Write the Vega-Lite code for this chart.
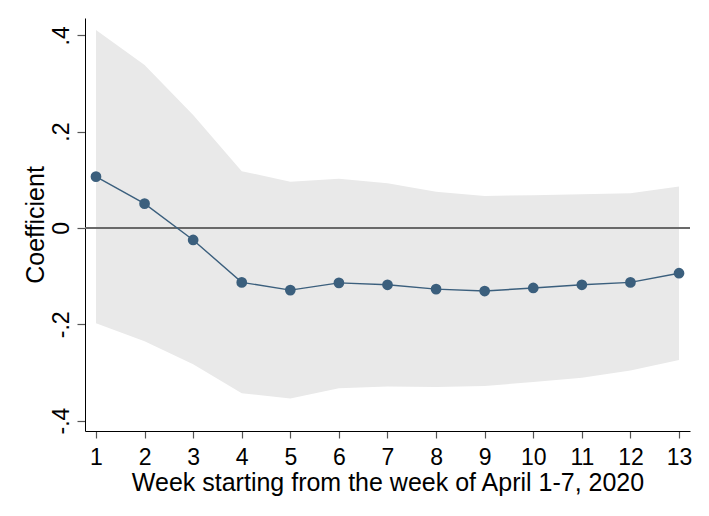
{
  "$schema": "https://vega.github.io/schema/vega-lite/v6.json",
  "width": 605,
  "height": 413,
  "autosize": {"type": "none"},
  "padding": {"left": 85, "top": 18, "right": 19, "bottom": 85},
  "background": "white",
  "config": {
    "view": {"stroke": null},
    "font": "Liberation Sans"
  },
  "data": {
    "values": [
      {"week": 1, "coef": 0.1066, "lo": -0.198, "hi": 0.411},
      {"week": 2, "coef": 0.0505, "lo": -0.235, "hi": 0.3385},
      {"week": 3, "coef": -0.0249, "lo": -0.283, "hi": 0.2347},
      {"week": 4, "coef": -0.113, "lo": -0.343, "hi": 0.118},
      {"week": 5, "coef": -0.129, "lo": -0.354, "hi": 0.096},
      {"week": 6, "coef": -0.114, "lo": -0.333, "hi": 0.102},
      {"week": 7, "coef": -0.118, "lo": -0.329, "hi": 0.093},
      {"week": 8, "coef": -0.127, "lo": -0.330, "hi": 0.075},
      {"week": 9, "coef": -0.131, "lo": -0.328, "hi": 0.0665},
      {"week": 10, "coef": -0.1246, "lo": -0.320, "hi": 0.068},
      {"week": 11, "coef": -0.118, "lo": -0.311, "hi": 0.070},
      {"week": 12, "coef": -0.113, "lo": -0.296, "hi": 0.072},
      {"week": 13, "coef": -0.094, "lo": -0.274, "hi": 0.086}
    ]
  },
  "encoding": {
    "x": {
      "field": "week",
      "type": "quantitative",
      "scale": {"domain": [0.774, 13.226], "nice": false, "zero": false},
      "title": "Week starting from the week of April 1-7, 2020",
      "axis": {
        "values": [1, 2, 3, 4, 5, 6, 7, 8, 9, 10, 11, 12, 13],
        "format": "d",
        "grid": false,
        "domainColor": "#000000",
        "domainWidth": 1,
        "tickColor": "#555555",
        "tickSize": 7,
        "tickWidth": 1.2,
        "labelFontSize": 23,
        "labelColor": "#000000",
        "labelPadding": 8,
        "labelFont": "Liberation Sans",
        "titleFont": "Liberation Sans",
        "titleFontSize": 25,
        "titleFontWeight": "normal",
        "titleColor": "#000000",
        "titlePadding": 1
      }
    }
  },
  "layer": [
    {
      "mark": {"type": "area", "color": "#e9e9e9", "opacity": 1},
      "encoding": {
        "y": {
          "field": "hi",
          "type": "quantitative",
          "scale": {"domain": [-0.4216, 0.436], "nice": false, "zero": false},
          "title": "Coefficient",
          "axis": {
            "values": [-0.4, -0.2, 0, 0.2, 0.4],
            "labelExpr": "(datum.value < -0.01 ? '-' : '') + (abs(datum.value) < 0.01 ? '0' : '.' + round(abs(datum.value) * 10))",
            "grid": false,
            "domainColor": "#000000",
            "domainWidth": 1,
            "tickColor": "#555555",
            "tickSize": 8,
            "tickWidth": 1.2,
            "labelAngle": -90,
            "labelAlign": "center",
            "labelBaseline": "bottom",
            "labelFontSize": 23,
            "labelColor": "#000000",
            "labelPadding": 4,
            "labelFont": "Liberation Sans",
            "titleFont": "Liberation Sans",
            "titleFontSize": 25,
            "titleFontWeight": "normal",
            "titleColor": "#000000",
            "titlePadding": 2
          }
        },
        "y2": {"field": "lo"}
      }
    },
    {
      "mark": {"type": "rule", "color": "#6a6a6a", "strokeWidth": 1.5},
      "encoding": {
        "y": {"datum": 0, "type": "quantitative"},
        "x": {"datum": 0.774, "type": "quantitative"},
        "x2": {"datum": 13.226}
      }
    },
    {
      "mark": {"type": "line", "color": "#3b5f7d", "strokeWidth": 1.4},
      "encoding": {
        "y": {"field": "coef", "type": "quantitative"}
      }
    },
    {
      "mark": {"type": "circle", "color": "#3b5f7d", "opacity": 1, "size": 115},
      "encoding": {
        "y": {"field": "coef", "type": "quantitative"}
      }
    }
  ]
}
